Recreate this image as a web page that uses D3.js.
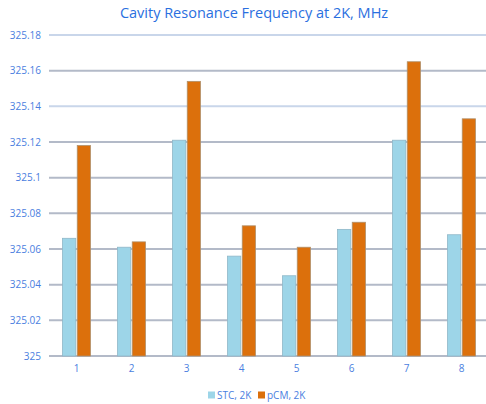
<!DOCTYPE html>
<html>
<head>
<meta charset="utf-8">
<script src="https://cdn.jsdelivr.net/npm/d3@7"></script>
<style>
  body { margin: 0; background: #fff; }
  text { font-family: "Open Sans", "Liberation Sans", sans-serif; }
</style>
</head>
<body>
<div id="chart"></div>
<script>
// chart data
const categories = ["1", "2", "3", "4", "5", "6", "7", "8"];
const stc = [325.066, 325.061, 325.121, 325.056, 325.045, 325.071, 325.121, 325.068];
const pcm = [325.118, 325.064, 325.154, 325.073, 325.061, 325.075, 325.165, 325.133];
const seriesNames = ["STC, 2K", "pCM, 2K"];
const yTicks = [325, 325.02, 325.04, 325.06, 325.08, 325.1, 325.12, 325.14, 325.16, 325.18];

const width = 486, height = 404;
const margin = {top: 35, right: -3, bottom: 48, left: 49};
const colors = ["#9dd5e8", "#dc700c"];
const strokes = ["#8fb7c8", "#b0906a"];
const textBlue = "#4a7ee0";

const svg = d3.select("#chart").append("svg")
    .attr("width", width)
    .attr("height", height);

const x = d3.scaleBand()
    .domain(categories)
    .range([margin.left, width - margin.right]);

const y = d3.scaleLinear()
    .domain([325, 325.18])
    .range([height - margin.bottom, margin.top]);

const xs = d3.scaleBand()
    .domain(seriesNames)
    .range([0, 28])
    .paddingInner(0.1);

// title
svg.append("text")
    .attr("x", 254)
    .attr("y", 18)
    .attr("text-anchor", "middle")
    .attr("fill", "#2a6fe0")
    .style("font-size", "14.5px")
    .text("Cavity Resonance Frequency at 2K, MHz");

// gridlines
svg.append("g")
    .selectAll("line")
    .data(yTicks)
    .enter()
    .append("line")
    .attr("x1", margin.left)
    .attr("x2", width)
    .attr("y1", d => y(d))
    .attr("y2", d => y(d))
    .attr("stroke", (d, i) => (i % 2 == 1 && i > 6) ? "#c9d6ea" : "#b3bac8")
    .attr("stroke-width", 2);

// y axis labels
const yAxis = d3.axisLeft(y)
    .tickValues(yTicks)
    .tickSize(0)
    .tickPadding(8)
    .tickFormat(d => +d.toFixed(2));
svg.append("g")
    .attr("transform", "translate(" + (margin.left) + ",0)")
    .call(yAxis)
    .call(g => g.select(".domain").remove())
    .call(g => g.selectAll("text")
        .attr("fill", textBlue)
        .style("font-size", "10px")
        .style("font-family", "'Open Sans', sans-serif"));

// bars
const rows = categories.map((c, i) => ({cat: c, vals: [stc[i], pcm[i]]}));
const groups = svg.append("g")
    .selectAll("g")
    .data(rows)
    .enter()
    .append("g")
    .attr("transform", d => "translate(" + (x(d.cat) + x.bandwidth() / 2 - 14) + ",0)");

groups.selectAll("rect")
    .data(d => d.vals.map((v, k) => ({name: seriesNames[k], v: v, k: k})))
    .enter()
    .append("rect")
    .attr("x", d => xs(d.name))
    .attr("width", xs.bandwidth())
    .attr("y", d => y(d.v))
    .attr("height", d => y(325) - y(d.v))
    .attr("fill", d => colors[d.k])
    .attr("stroke", d => strokes[d.k])
    .attr("stroke-width", 0.8);

// x axis
const xAxis = d3.axisBottom(x).tickSize(0).tickPadding(9);
svg.append("g")
    .attr("transform", "translate(0," + y(325) + ")")
    .call(xAxis)
    .call(g => g.select(".domain").remove())
    .call(g => g.selectAll("text")
        .attr("fill", textBlue)
        .style("font-size", "10px")
        .style("font-family", "'Open Sans', sans-serif"));

// legend
const legendX = [208, 258];
const legend = svg.append("g")
    .selectAll("g")
    .data(seriesNames)
    .enter()
    .append("g")
    .attr("transform", (d, i) => "translate(" + legendX[i] + ",391.5)");
legend.append("rect")
    .attr("width", 7)
    .attr("height", 7)
    .attr("fill", (d, i) => colors[i]);
legend.append("text")
    .attr("x", 9)
    .attr("y", 7.5)
    .attr("fill", textBlue)
    .style("font-size", "10px")
    .text(d => d);
</script>
</body>
</html>
